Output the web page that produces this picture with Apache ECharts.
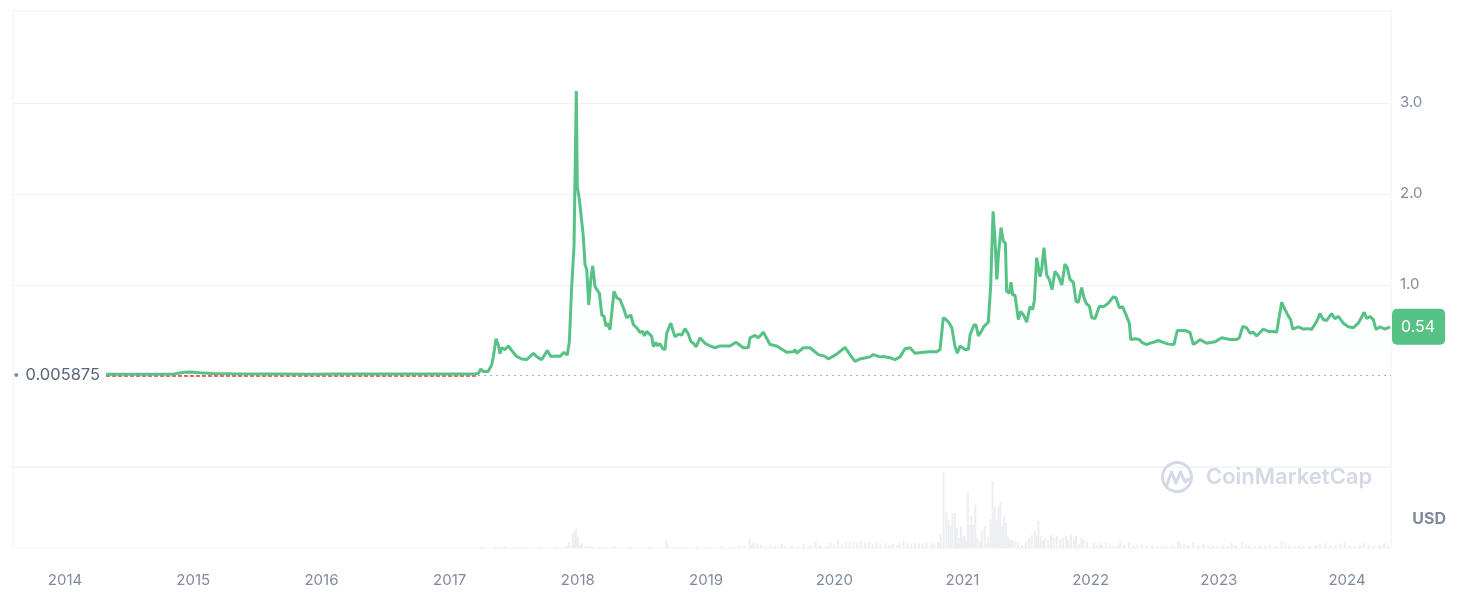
<!DOCTYPE html>
<html>
<head>
<meta charset="utf-8">
<script src="https://cdn.jsdelivr.net/npm/echarts@6/dist/echarts.min.js"></script>
<style>
html,body{margin:0;padding:0;background:#fff;}
#chart{width:1458px;height:606px;}
</style>
</head>
<body>
<div id="chart"></div>
<script>
// ---- data (time in decimal years) ----
const yearTicks = [2014, 2015, 2016, 2017, 2018, 2019, 2020, 2021, 2022, 2023, 2024];
const axisStart = 2013.594;
const axisEnd = 2024.343;
const basePrice = 0.005875;

const priceYears = [
 2014.32,2014.50,2014.70,2014.85,2014.93,2014.98,2015.05,2015.15,2015.30,2015.50,2015.70,2015.90,
 2016.10,2016.30,2016.50,2016.70,2016.90,2017.10,2017.20,
 2017.224,2017.243,2017.261,2017.300,2017.328,2017.341,2017.362,2017.380,2017.393,2017.406,2017.432,
 2017.458,2017.484,2017.523,2017.562,2017.601,2017.614,2017.653,2017.682,2017.718,2017.762,2017.789,
 2017.835,2017.861,2017.892,2017.918,2017.934,2017.952,2017.970,2017.988,2017.996,2018.012,2018.043,
 2018.056,2018.069,2018.085,2018.101,2018.116,2018.134,2018.152,2018.168,2018.187,2018.204,2018.220,
 2018.230,2018.251,2018.282,2018.303,2018.329,2018.355,2018.381,2018.394,2018.413,2018.433,2018.459,
 2018.485,2018.506,2018.519,2018.537,2018.576,2018.589,2018.610,2018.620,2018.641,2018.662,2018.680,
 2018.693,2018.725,2018.758,2018.784,2018.810,2018.836,2018.862,2018.881,2018.901,2018.922,2018.953,
 2018.992,2019.031,2019.070,2019.109,2019.187,2019.234,2019.291,2019.330,2019.343,2019.382,2019.408,
 2019.447,2019.499,2019.551,2019.629,2019.681,2019.694,2019.707,2019.759,2019.811,2019.876,2019.928,
 2019.954,2020.019,2020.084,2020.123,2020.162,2020.201,2020.279,2020.305,2020.357,2020.383,2020.435,
 2020.474,2020.513,2020.552,2020.591,2020.630,2020.695,2020.747,2020.800,2020.825,2020.851,2020.872,
 2020.898,2020.917,2020.942,2020.960,2020.981,2021.020,2021.046,2021.059,2021.090,2021.106,2021.124,
 2021.143,2021.168,2021.202,2021.220,2021.239,2021.254,2021.268,2021.283,2021.301,2021.319,2021.335,
 2021.345,2021.366,2021.379,2021.392,2021.410,2021.436,2021.455,2021.480,2021.501,2021.527,2021.548,
 2021.561,2021.579,2021.592,2021.605,2021.618,2021.636,2021.657,2021.678,2021.699,2021.722,2021.748,
 2021.775,2021.800,2021.818,2021.839,2021.865,2021.886,2021.904,2021.930,2021.948,2021.969,2021.990,
 2022.009,2022.034,2022.068,2022.099,2022.120,2022.138,2022.177,2022.198,2022.224,2022.250,2022.281,
 2022.302,2022.313,2022.346,2022.380,2022.398,2022.437,2022.463,2022.489,2022.528,2022.567,2022.606,
 2022.650,2022.676,2022.736,2022.775,2022.801,2022.827,2022.853,2022.905,2022.970,2023.022,2023.087,
 2023.139,2023.160,2023.186,2023.217,2023.243,2023.269,2023.295,2023.347,2023.386,2023.425,2023.451,
 2023.490,2023.516,2023.542,2023.560,2023.576,2023.620,2023.659,2023.698,2023.724,2023.763,2023.789,
 2023.815,2023.841,2023.880,2023.906,2023.932,2023.971,2024.010,2024.049,2024.088,2024.134,2024.154,
 2024.179,2024.205,2024.226,2024.257,2024.296,2024.335
];
const priceValues = [
 0.020,0.020,0.019,0.022,0.040,0.045,0.035,0.028,0.024,0.022,0.021,0.020,
 0.021,0.022,0.021,0.022,0.021,0.022,0.022,
 0.030,0.077,0.050,0.050,0.120,0.215,0.410,0.340,0.245,0.310,0.290,
 0.330,0.280,0.215,0.187,0.180,0.170,0.250,0.210,0.180,0.280,0.215,
 0.220,0.215,0.260,0.230,0.380,0.985,1.420,3.130,2.080,1.940,1.530,
 1.220,1.175,0.780,1.060,1.210,0.985,0.940,0.910,0.670,0.655,0.545,
 0.580,0.510,0.930,0.860,0.840,0.750,0.640,0.620,0.670,0.565,0.530,
 0.480,0.490,0.440,0.490,0.435,0.320,0.370,0.330,0.355,0.300,0.290,
 0.470,0.580,0.430,0.460,0.450,0.520,0.460,0.380,0.360,0.320,0.420,
 0.360,0.330,0.310,0.330,0.330,0.370,0.310,0.310,0.420,0.445,0.420,
 0.480,0.345,0.330,0.260,0.265,0.290,0.250,0.310,0.310,0.235,0.215,
 0.187,0.240,0.315,0.235,0.160,0.187,0.210,0.235,0.210,0.215,0.200,
 0.180,0.210,0.300,0.310,0.250,0.260,0.265,0.265,0.290,0.640,0.620,
 0.580,0.530,0.325,0.250,0.330,0.290,0.290,0.450,0.560,0.560,0.440,
 0.480,0.545,0.590,0.985,1.810,1.500,1.060,1.370,1.630,1.480,1.460,
 0.930,0.910,1.030,0.890,0.890,0.620,0.710,0.660,0.590,0.760,0.730,
 0.830,1.300,1.280,1.090,1.170,1.410,1.110,1.060,0.950,1.150,1.100,
 1.000,1.230,1.190,1.060,1.030,0.820,0.810,0.970,0.860,0.790,0.770,
 0.640,0.630,0.765,0.760,0.780,0.800,0.870,0.860,0.750,0.760,0.655,
 0.580,0.400,0.410,0.400,0.370,0.345,0.360,0.370,0.390,0.370,0.350,
 0.345,0.500,0.500,0.480,0.345,0.370,0.400,0.360,0.375,0.420,0.400,
 0.400,0.420,0.545,0.530,0.470,0.480,0.440,0.515,0.490,0.490,0.480,
 0.810,0.730,0.660,0.620,0.515,0.540,0.515,0.520,0.510,0.600,0.685,
 0.620,0.610,0.685,0.630,0.655,0.580,0.540,0.530,0.580,0.700,0.630,
 0.655,0.620,0.510,0.540,0.515,0.540
];

const volumeYears = [
 2017.25,2017.36,2017.43,2017.55,2017.71,2017.83,2017.91,2017.93,2017.95,2017.96,2017.975,2017.986,
 2018.00,2018.02,2018.03,2018.06,2018.08,2018.11,2018.17,2018.28,2018.41,2018.56,2018.69,2018.70,
 2018.80,2018.93,2019.03,2019.12,2019.19,2019.26,2019.30,2019.34,2019.36,2019.37,2019.40,2019.43,
 2019.46,2019.50,2019.54,2019.59,2019.62,2019.67,2019.72,2019.76,2019.81,2019.855,2019.89,2019.94,
 2019.97,2020.00,2020.03,2020.06,2020.09,2020.12,2020.15,2020.18,2020.21,2020.24,2020.27,2020.30,
 2020.33,2020.36,2020.40,2020.43,2020.46,2020.49,2020.51,2020.54,2020.57,2020.60,2020.63,2020.66,
 2020.69,2020.72,2020.76,2020.78,2020.81,2020.83,2020.853,2020.874,2020.892,2020.907,2020.922,2020.942,
 2020.956,2020.972,2020.988,2021.003,2021.019,2021.032,2021.042,2021.056,2021.071,2021.083,2021.101,2021.116,
 2021.136,2021.152,2021.173,2021.191,2021.202,2021.220,2021.235,2021.251,2021.266,2021.281,2021.296,2021.311,
 2021.326,2021.341,2021.356,2021.371,2021.387,2021.406,2021.434,2021.465,2021.496,2021.519,2021.541,2021.564,
 2021.578,2021.592,2021.609,2021.629,2021.644,2021.668,2021.691,2021.711,2021.735,2021.762,2021.785,2021.808,
 2021.824,2021.847,2021.871,2021.886,2021.909,2021.928,2021.944,2021.971,2022.026,2022.05,2022.073,2022.089,
 2022.12,2022.15,2022.18,2022.21,2022.23,2022.26,2022.30,2022.33,2022.36,2022.40,2022.44,2022.48,
 2022.52,2022.56,2022.59,2022.64,2022.68,2022.70,2022.73,2022.76,2022.80,2022.84,2022.88,2022.92,
 2022.95,2022.99,2023.03,2023.07,2023.10,2023.13,2023.18,2023.21,2023.24,2023.28,2023.32,2023.36,
 2023.40,2023.44,2023.49,2023.52,2023.55,2023.59,2023.63,2023.66,2023.71,2023.76,2023.79,2023.83,
 2023.87,2023.91,2023.95,2023.98,2024.02,2024.06,2024.10,2024.13,2024.17,2024.21,2024.25,2024.29,2024.32
];
const volumeValues = [
 1,2,1.5,1,1,1.5,2,5.7,3,15,17,19,
 11.7,3,5,2,2,1.5,1,2,1,1,8.3,4.3,
 1,2,1,2,1,3,2,9.3,4,5,4,3,
 2,3,2,4,2,2,2,4,3,6.7,3,2,
 5,3,8.3,4,5.7,5,6,5.7,7.3,5,6,4,
 6,4,5,3,4,3,5,7.3,5,4,5,5,
 4,5,5,4,6,13.3,75.7,35.7,28,21.7,35,35,
 20,10,21.7,11.7,12,7,56,23.3,32.3,23,43.3,10,
 7,16.7,21.7,5,11.7,29,66.7,41.7,28.3,41.7,46.7,21.7,
 31.7,25,11,8,8,7,5,3,7,10,13,18,
 12,26.7,12,8,10,8,13,11,12,9,10,12,
 8,13,9,12,4,10,8,7,5,3,5,3,
 5,3,2,3,7,3,5,2,3,3,2,3,
 2,3,2,3,7,5,4,3,5,3,4,2,
 3,2,3,2,5,3,6,4,3,2,3,2,
 3,2,7,5,3,2,3,2,2,3,4,5,
 3,3,4,6,3,2,3,5,3,2,3,5,3
];

// ---- chart ----
const GREEN = '#57c286';
const chart = echarts.init(document.getElementById('chart'), null, {renderer: 'canvas'});
const priceData = priceYears.map((t, i) => [t, priceValues[i]]);
const volumeData = volumeYears.map((t, i) => [t, volumeValues[i]]);
const lastPrice = priceValues[priceValues.length - 1];
const firstYear = priceYears[0];
const riseYear = priceYears[19];
const FONT = 'Inter, "Noto Sans", sans-serif';

chart.setOption({
  animation: false,
  textStyle: {fontFamily: FONT},
  grid: [
    {left: 13, top: 11, right: 67, height: 456, show: true, borderColor: '#eff2f5', borderWidth: 1, backgroundColor: 'transparent'},
    {left: 13, top: 467, right: 67, height: 81, show: true, borderColor: '#eff2f5', borderWidth: 1, backgroundColor: 'transparent'}
  ],
  xAxis: [
    {type: 'value', gridIndex: 0, min: axisStart, max: axisEnd, show: false, splitLine: {show: false}},
    {type: 'value', gridIndex: 1, min: axisStart, max: axisEnd,
     axisLine: {show: false}, axisTick: {show: false}, splitLine: {show: false},
     axisLabel: {customValues: yearTicks, formatter: v => String(Math.round(v)), color: '#808a9d',
                 fontSize: 15, margin: 25, fontFamily: FONT}}
  ],
  yAxis: [
    {type: 'value', gridIndex: 0, position: 'right', min: -1, max: 4.01, interval: 1,
     axisLine: {show: false}, axisTick: {show: false}, splitLine: {show: false},
     axisLabel: {color: '#808a9d', fontSize: 15, margin: 9, fontFamily: FONT,
                 formatter: v => (v >= 1 && v <= 3) ? v.toFixed(1) : ''}},
    {type: 'value', gridIndex: 1, min: 0, max: 81, show: false, splitLine: {show: false}}
  ],
  series: [
    {
      name: 'guides', type: 'line', xAxisIndex: 0, yAxisIndex: 0, data: [], silent: true,
      markLine: {
        silent: true, symbol: ['none', 'none'], z: 1, animation: false,
        label: {show: false},
        data: [
          {yAxis: 1, lineStyle: {color: '#eff2f5', type: 'solid', width: 1}},
          {yAxis: 2, lineStyle: {color: '#eff2f5', type: 'solid', width: 1}},
          {yAxis: 3, lineStyle: {color: '#eff2f5', type: 'solid', width: 1}},
          [
            {coord: [firstYear, basePrice], lineStyle: {color: '#a7afbf', type: [2, 4], width: 1},
             label: {show: true, position: 'start', distance: 6,
                     formatter: '{d|●}{t|' + basePrice.toString() + '}',
                     rich: {d: {fontSize: 5, color: '#808a9d', padding: [0, 7, 0, 0]},
                            t: {fontSize: 16.5, color: '#58667e', fontFamily: FONT}}}},
            {coord: [axisEnd, basePrice]}
          ],
          [
            {coord: [firstYear, basePrice], lineStyle: {color: '#ea3943', type: [4, 2], width: 1.5}},
            {coord: [riseYear, basePrice]}
          ]
        ]
      }
    },
    {
      name: 'Price', type: 'line', xAxisIndex: 0, yAxisIndex: 0, data: priceData, z: 3,
      showSymbol: false, symbol: 'none', smooth: false,
      lineStyle: {color: GREEN, width: 3},
      areaStyle: {color: new echarts.graphic.LinearGradient(0, 0, 0, 1, [
        {offset: 0, color: 'rgba(22,199,132,0.10)'},
        {offset: 1, color: 'rgba(22,199,132,0.0)'}
      ])}
    },
    {
      name: 'lastLabel', type: 'line', xAxisIndex: 0, yAxisIndex: 0, data: [], silent: true, z: 10,
      markLine: {
        silent: true, symbol: ['none', 'none'], z: 10,
        lineStyle: {color: 'rgba(255,255,255,0)', width: 0},
        data: [{yAxis: lastPrice}],
        label: {show: true, position: 'end', distance: 1, formatter: lastPrice.toFixed(2),
                color: '#fff', fontSize: 16, fontFamily: FONT, backgroundColor: GREEN,
                borderRadius: 5, padding: [10, 10, 10, 9]}
      }
    },
    {
      name: 'Volume', type: 'bar', xAxisIndex: 1, yAxisIndex: 1, data: volumeData,
      barWidth: 2, itemStyle: {color: '#eceef2'}, silent: true
    }
  ],
  graphic: [
    {type: 'text', right: 12, top: 511,
     style: {text: 'USD', font: 'bold 16px ' + FONT, fill: '#808a9d'}},
    {type: 'group', left: 1160, top: 460, silent: true, children: [
      {type: 'circle', shape: {cx: 16, cy: 16, r: 14.5}, style: {fill: 'none', stroke: '#d3d9e5', lineWidth: 3}},
      {type: 'polyline', shape: {points: [[6, 24], [10.5, 11], [15, 22], [19.5, 11], [24, 21], [28, 18]]},
       style: {fill: 'none', stroke: '#d3d9e5', lineWidth: 3, lineJoin: 'round', lineCap: 'round'}},
      {type: 'text', x: 45, y: 16, style: {text: 'CoinMarketCap', font: '600 22px ' + FONT, fill: '#d3d9e5', textVerticalAlign: 'middle'}}
    ]}
  ]
});
</script>
</body>
</html>
